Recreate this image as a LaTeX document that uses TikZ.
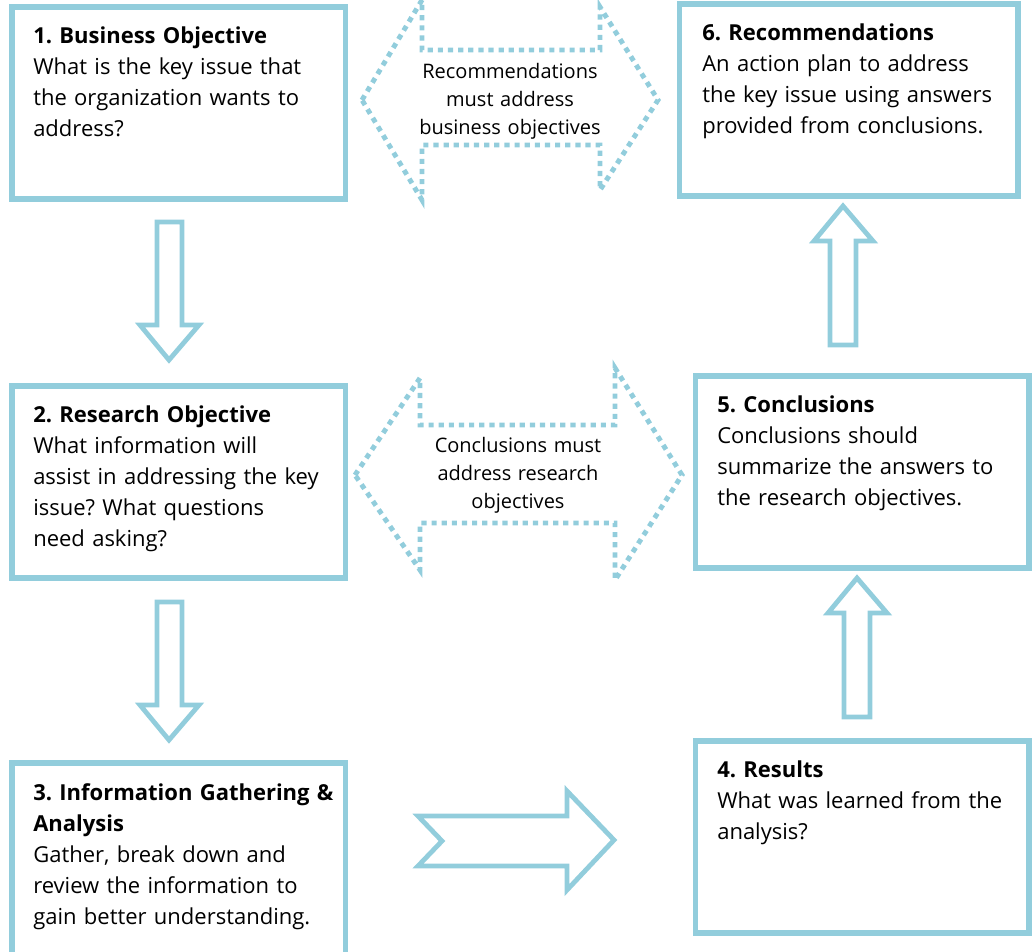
\documentclass[tikz,border=0pt]{standalone}
\usepackage{fontspec}
\setmainfont{Open Sans}
\usepackage{tikz}
\definecolor{aqua}{HTML}{92CDDC}
\frenchspacing

\begin{document}
\begin{tikzpicture}[x=0.75pt,y=0.75pt,yscale=-1,xscale=1,
  panel/.style={draw=aqua,line width=4pt,inner sep=0pt,minimum width=250.1pt,minimum height=144pt},
  blockarrow/.style={draw=aqua,line width=3.6pt,line join=miter},
  dotarrow/.style={draw=aqua,line width=3.7pt,dash pattern=on 3.9pt off 3.7pt},
  paneltext/.style={anchor=base west,inner sep=0pt,text width=245pt,align=left,font={\fontsize{16.5}{23.25}\selectfont}},
  linktext/.style={anchor=base,inner sep=0pt,text width=160pt,align=center,font={\fontsize{15}{21}\selectfont}}]
%set diagram left start at 0, and has height of 951
\clip (0,0) rectangle (1035,951);

%Boxes
\node [panel] (bizobj) at (178.75,103) {};
\node [panel,minimum width=253.9pt] (recom) at (848.75,100) {};
\node [panel] (resobj) at (178.75,482) {};
\node [panel] (concl) at (862.25,472) {};
\node [panel] (gather) at (178.75,859) {};
\node [panel] (results) at (862.25,837) {};

%Down Arrow [box 1 to box 2]
\draw [blockarrow] (157,222) -- (182,222) -- (182,325) -- (199,325) -- (169,360) -- (140,325) -- (157,325) -- cycle ;
%Down Arrow [box 2 to box 3]
\draw [blockarrow] (157,602) -- (182,602) -- (182,705) -- (199,705) -- (169,740) -- (140,705) -- (157,705) -- cycle ;
%Right Arrow [box 3 to box 4]
\draw [blockarrow] (418,816) -- (567,816) -- (567,791) -- (614,840) -- (567,890) -- (567,866) -- (418,866) -- (442,841) -- cycle ;
%Up Arrow [box 4 to box 5]
\draw [blockarrow] (844,717) -- (870,717) -- (870,613) -- (887,613) -- (857,578) -- (828,613) -- (844,613) -- cycle ;
%Up Arrow [box 5 to box 6]
\draw [blockarrow] (830,345) -- (856,345) -- (856,241) -- (873,241) -- (843,206) -- (814,241) -- (830,241) -- cycle ;

%Dotted Double Arrow [top]
\draw [dotarrow] (362,100) -- (422,0) -- (422,50) -- (600,50) -- (600,7) -- (658,100) -- (600,190) -- (600,145) -- (422,145) -- (422,200) -- cycle ;
%Dotted Double Arrow [middle]
\draw [dotarrow] (355,475) -- (420,378) -- (420,425) -- (615,425) -- (615,368) -- (682,475) -- (615,580) -- (615,523) -- (420,523) -- (420,570) -- cycle ;

% Text Node
\node [paneltext] (bizobjtext) at (33,43) {\textbf{1. Business Objective}\\What is the key issue that\\the organization wants to\\address?};
% Text Node
\node [paneltext] (recomtext) at (702,40) {\textbf{6. Recommendations}\\An action plan to address\\the key issue using answers\\provided from conclusions.};
% Text Node
\node [paneltext] (resobjtext) at (33,422) {\textbf{2. Research Objective}\\What information will\\assist in addressing the key\\issue? What questions\\need asking?};
% Text Node
\node [paneltext] (concltext) at (717,412) {\textbf{5. Conclusions}\\Conclusions should\\summarize the answers to\\the research objectives.};
% Text Node
\node [paneltext] (gathertext) at (33,800) {\textbf{3. Information Gathering \&}\\\textbf{Analysis}\\Gather, break down and\\review the information to\\gain better understanding.};
% Text Node
\node [paneltext] (resultstext) at (717,777) {\textbf{4. Results}\\What was learned from the\\analysis?};
% Text Node
\node [linktext] (toplink) at (510,78) {Recommendations\\must address\\business objectives};
% Text Node
\node [linktext] (midlink) at (518,452) {Conclusions must\\address research\\objectives};

\end{tikzpicture}
\end{document}
